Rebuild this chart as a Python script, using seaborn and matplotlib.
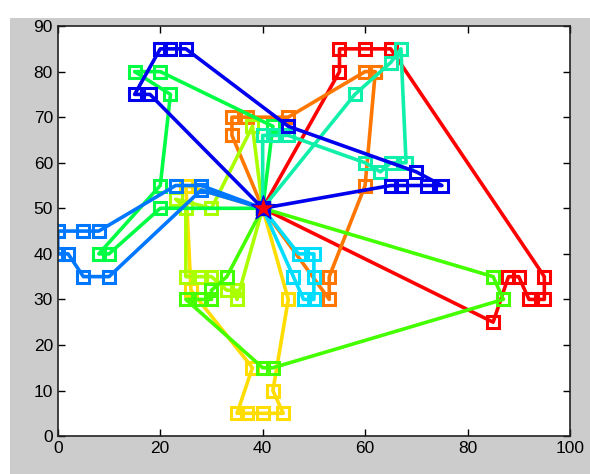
import numpy as np
import pandas as pd
import seaborn as sns
import matplotlib
matplotlib.use("Agg")
import matplotlib.pyplot as plt
from matplotlib.patches import Rectangle

# depot
depot_x = 40
depot_y = 50

# route colours (red -> blue)
colors = ["#FF0000", "#FF7700", "#FFDD00", "#AAFF00", "#44FF00",
          "#00FF44", "#11F0AA", "#00DDFF", "#0077FF", "#0000EE"]

# customer sequences of each route (depot at both ends)
route_x = [
    [40, 55, 55, 60, 65, 95, 95, 92, 90, 88, 85, 40],
    [40, 53, 53, 60, 62, 60, 45, 37, 34, 34, 40],
    [40, 25, 26, 38, 35, 37, 40, 44, 42, 45, 40],
    [40, 38, 30, 23, 25, 25, 28, 30, 33, 35, 35, 40],
    [40, 85, 87, 42, 40, 25, 28, 30, 30, 33, 40],
    [40, 42, 20, 15, 22, 20, 8, 10, 20, 40],
    [40, 40, 42, 45, 60, 63, 65, 68, 67, 65, 58, 40],
    [40, 47, 50, 50, 50, 48, 46, 40],
    [40, 28, 23, 8, 5, 0, 0, 2, 5, 10, 28, 40],
    [40, 65, 67, 72, 75, 70, 45, 25, 22, 20, 15, 18, 40],
]
route_y = [
    [50, 80, 85, 85, 85, 35, 30, 30, 35, 35, 25, 50],
    [50, 30, 35, 55, 80, 80, 70, 70, 70, 66, 50],
    [50, 55, 32, 15, 5, 5, 5, 5, 10, 30, 50],
    [50, 68, 50, 52, 50, 35, 35, 35, 32, 32, 30, 50],
    [50, 35, 30, 15, 15, 30, 30, 30, 32, 35, 50],
    [50, 68, 80, 80, 75, 55, 40, 40, 50, 50],
    [50, 66, 66, 66, 60, 58, 60, 60, 85, 82, 75, 50],
    [50, 40, 40, 35, 30, 30, 35, 50],
    [50, 55, 55, 45, 45, 45, 40, 40, 35, 35, 54, 50],
    [50, 55, 55, 55, 55, 58, 68, 85, 85, 85, 75, 75, 50],
]

fig = plt.figure(figsize=(5.9, 4.74), dpi=100, facecolor="white")
# grey figure area (screenshot has a thin white margin top/left)
fig.patches.append(Rectangle((10 / 590, 0), 1, 1 - 18 / 474,
                             transform=fig.transFigure, facecolor="#CCCCCC",
                             edgecolor="none", zorder=-10))
ax = fig.add_axes([0.098, 0.080, 0.868, 0.865])
ax.set_zorder(1)
ax.set_facecolor("white")

for i in range(len(route_x)):
    df = pd.DataFrame({"x": route_x[i], "y": route_y[i]})
    sns.lineplot(data=df, x="x", y="y", sort=False, estimator=None, ax=ax,
                 color=colors[i], lw=2.6, marker="s", markersize=8.5,
                 markerfacecolor="none", markeredgecolor=colors[i],
                 markeredgewidth=2.2, legend=False)

sns.scatterplot(x=[depot_x], y=[depot_y], marker="*", s=330, color="red",
                edgecolor="#0000EE", linewidth=1, ax=ax, zorder=5)

ax.set_xlim(0, 100)
ax.set_ylim(0, 90)
ax.set_xticks(np.arange(0, 101, 20))
ax.set_yticks(np.arange(0, 91, 10))
ax.set_xlabel("")
ax.set_ylabel("")
ax.tick_params(direction="in", top=True, right=True, length=5, width=1,
               labelsize=12.5, colors="black")
for t in ax.get_xticklabels() + ax.get_yticklabels():
    t.set_fontfamily("Liberation Sans")
for s in ax.spines.values():
    s.set_linewidth(1.2)
    s.set_color("#222222")

fig.savefig("out.png", dpi=100, facecolor=fig.get_facecolor())
